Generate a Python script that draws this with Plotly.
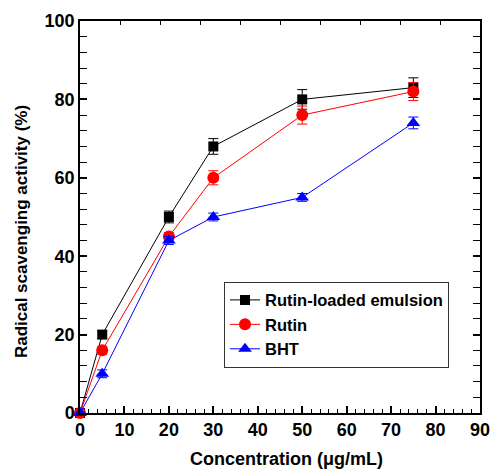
import plotly.graph_objects as go

# Concentration levels (µg/mL)
concentration = [0, 5, 20, 30, 50, 75]

# Radical scavenging activity (%) with standard deviations
emulsion = [0, 20, 50, 68, 80, 83]
emulsion_err = [0, 1.0, 1.5, 2.0, 2.5, 2.5]
rutin = [0, 16, 45, 60, 76, 82]
rutin_err = [0, 1.0, 1.0, 1.8, 2.3, 2.3]
bht = [0, 10, 44, 50, 55, 74]
bht_err = [0, 1.0, 1.0, 1.0, 1.0, 1.5]

series_names = ["Rutin-loaded emulsion", "Rutin", "BHT"]

x_title = "Concentration (μg/mL)"
y_title = "Radical scavenging activity (%)"

FONT = "Liberation Sans, Arial, sans-serif"

fig = go.Figure()

styles = [
    (emulsion, emulsion_err, "black", "square", 10),
    (rutin, rutin_err, "red", "circle", 12),
    (bht, bht_err, "blue", "triangle-up", 12),
]

for name, (vals, errs, color, symbol, size) in zip(series_names, styles):
    fig.add_trace(go.Scatter(
        x=concentration, y=vals, name=name,
        mode="lines+markers",
        line=dict(color=color, width=1),
        marker=dict(color=color, symbol=symbol, size=size),
        error_y=dict(type="data", array=errs, color=color, thickness=1, width=5),
        cliponaxis=False,
    ))

# invisible trace bound to the top axis so it renders its ticks
fig.add_trace(go.Scatter(x=[0], y=[0], xaxis="x2", showlegend=False,
                         mode="markers", marker=dict(opacity=0), hoverinfo="skip"))

fig.update_layout(
    width=500, height=469,
    margin=dict(l=80, r=10, t=21, b=56),
    paper_bgcolor="white", plot_bgcolor="white",
    font=dict(family=FONT, color="black"),
    showlegend=True,
    legend=dict(
        x=0.36, y=0.335, xanchor="left", yanchor="top",
        bgcolor="white", bordercolor="#333333", borderwidth=1,
        font=dict(size=16.5, family=FONT, weight="bold"),
        itemwidth=30, tracegroupgap=0,
    ),
    xaxis=dict(
        range=[0, 90], dtick=10, tick0=0,
        ticks="inside", ticklen=7, tickwidth=1.5, tickcolor="black",
        minor=dict(dtick=2, ticks="inside", ticklen=4, tickcolor="black", tickwidth=1),
        showline=True, linecolor="black", linewidth=1.5,
        showgrid=False, zeroline=False,
        tickfont=dict(size=18, family=FONT, weight="bold"),
    ),
    xaxis2=dict(
        overlaying="x", side="top", range=[0, 90], dtick=9, tick0=0,
        ticks="inside", ticklen=4, tickcolor="black", showticklabels=False,
        showline=True, linecolor="black", linewidth=1.5,
        showgrid=False, zeroline=False,
    ),
    yaxis=dict(
        range=[0, 100], dtick=20, tick0=0,
        ticks="inside", ticklen=7, tickwidth=1.5, tickcolor="black",
        minor=dict(dtick=4, ticks="inside", ticklen=4, tickcolor="black", tickwidth=1),
        showline=True, linecolor="black", linewidth=1.5, mirror="allticks",
        showgrid=False, zeroline=False,
        tickfont=dict(size=18, family=FONT, weight="bold"),
    ),
    annotations=[
        dict(text=x_title, xref="paper", yref="paper", x=0.515, y=-0.118,
             xanchor="center", yanchor="middle", showarrow=False,
             font=dict(size=18, family=FONT, weight="bold")),
        dict(text=y_title, xref="paper", yref="paper", x=-0.146, y=0.463,
             xanchor="center", yanchor="middle", showarrow=False, textangle=-90,
             font=dict(size=17, family=FONT, weight="bold")),
    ],
)

fig.write_html("out.html")
